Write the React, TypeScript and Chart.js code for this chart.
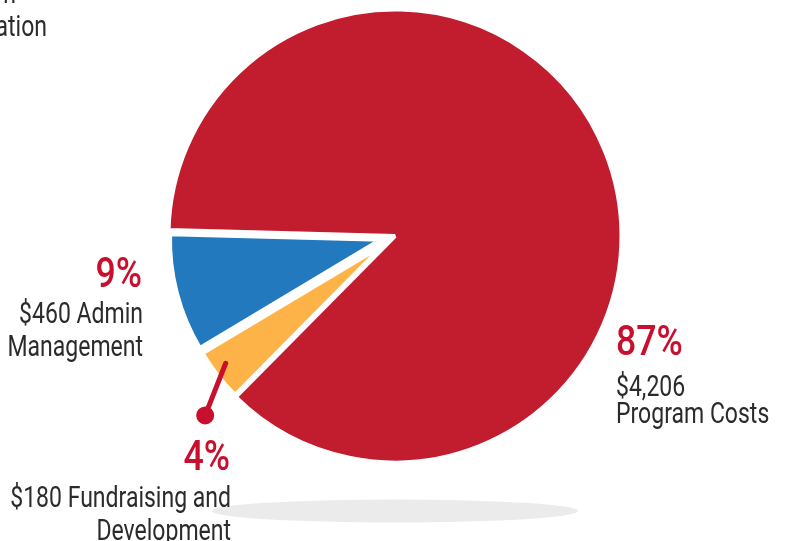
import React, { useEffect, useRef } from "react";
import { Chart, registerables } from "chart.js";

Chart.register(...registerables);

const categories = ["Program Costs", "Fundraising and Development", "Admin Management"];
const amounts = ["$4,206", "$180", "$460"];
const values = [87, 4, 9];
const colors = ["#C21D2E", "#FDB348", "#2279BE"];
const pulls = [0, 15, 15];
const shrinks = [0, 16, 16];

const RED = "#C8102E";
const INK = "#2B2B2B";
const FONT = '"Roboto", "Noto Sans", sans-serif';

type Lbl = { text: string; x: number; y: number; align: CanvasTextAlign; big?: boolean };
const labelLayout: Lbl[] = [
  { text: `${values[0]}%`, x: 616, y: 355, align: "left", big: true },
  { text: amounts[0], x: 616, y: 396, align: "left" },
  { text: categories[0], x: 616, y: 423, align: "left" },
  { text: `${values[2]}%`, x: 142, y: 287, align: "right", big: true },
  { text: `${amounts[2]} Admin`, x: 143, y: 323, align: "right" },
  { text: "Management", x: 143, y: 356, align: "right" },
  { text: `${values[1]}%`, x: 230, y: 470, align: "right", big: true },
  { text: `${amounts[1]} Fundraising and`, x: 231, y: 507, align: "right" },
  { text: "Development", x: 231, y: 540, align: "right" },
  { text: "Cost per Program", x: 16, y: 3, align: "right" },
  { text: "Participation", x: 47, y: 36, align: "right" },
];

const pullPlugin = {
  id: "pullPlugin",
  beforeDraw(chart: any) {
    const ctx = chart.ctx as CanvasRenderingContext2D;
    const ca = chart.chartArea;
    const cx = (ca.left + ca.right) / 2;
    const cy = (ca.top + ca.bottom) / 2;
    ctx.save();
    ctx.fillStyle = "#EBEBEB";
    ctx.beginPath();
    ctx.ellipse(cx, cy + 275, 183, 11.5, 0, 0, Math.PI * 2);
    ctx.fill();
    ctx.restore();
  },
  beforeDatasetsDraw(chart: any) {
    const meta = chart.getDatasetMeta(0);
    const ca = chart.chartArea;
    const cx = (ca.left + ca.right) / 2;
    const cy = (ca.top + ca.bottom) / 2;
    const base = meta.controller.outerRadius;
    meta.data.forEach((el: any, i: number) => {
      const mid = (el.startAngle + el.endAngle) / 2;
      el.x = cx + Math.cos(mid) * pulls[i];
      el.y = cy + Math.sin(mid) * pulls[i];
      el.outerRadius = base - shrinks[i];
    });
  },
  afterDatasetsDraw(chart: any) {
    const ctx = chart.ctx as CanvasRenderingContext2D;
    const meta = chart.getDatasetMeta(0);
    const el: any = meta.data[1];
    const mid = (el.startAngle + el.endAngle) / 2;
    const r = el.outerRadius;
    const a1 = mid + 0.022;
    const a2 = mid - 0.098;
    const x1 = el.x + Math.cos(a1) * r * 0.935;
    const y1 = el.y + Math.sin(a1) * r * 0.935;
    const x2 = el.x + Math.cos(a2) * r * 1.17;
    const y2 = el.y + Math.sin(a2) * r * 1.17;
    ctx.save();
    ctx.strokeStyle = RED;
    ctx.fillStyle = RED;
    ctx.lineWidth = 5;
    ctx.lineCap = "round";
    ctx.beginPath();
    ctx.moveTo(x1, y1);
    ctx.lineTo(x2, y2);
    ctx.stroke();
    ctx.beginPath();
    ctx.arc(x2, y2, 9, 0, Math.PI * 2);
    ctx.fill();
    ctx.restore();

    labelLayout.forEach((l) => {
      ctx.save();
      ctx.textBaseline = "alphabetic";
      ctx.font = l.big ? `500 42px ${FONT}` : `29.5px ${FONT}`;
      ctx.fillStyle = l.big ? RED : INK;
      ctx.textAlign = l.align;
      ctx.translate(l.x, l.y);
      ctx.scale(l.big ? 0.85 : 0.78, 1);
      ctx.fillText(l.text, 0, 0);
      ctx.restore();
    });
  },
};

export default function App() {
  const ref = useRef<HTMLCanvasElement | null>(null);
  useEffect(() => {
    document.body.style.margin = "0";
    if (!ref.current) return;
    const chart = new Chart(ref.current, {
      type: "pie",
      data: {
        labels: categories,
        datasets: [
          {
            data: values,
            backgroundColor: colors,
            borderColor: "#FFFFFF",
            borderWidth: 4,
          },
        ],
      },
      options: {
        animation: false,
        responsive: false,
        rotation: 271.5,
        radius: 226.5,
        layout: { padding: { left: 4, right: 0, top: 0, bottom: 69 } },
        plugins: { legend: { display: false }, tooltip: { enabled: false } },
      },
      plugins: [pullPlugin],
    } as any);
    return () => chart.destroy();
  }, []);
  return (
    <div style={{ position: "relative", width: 786, height: 541, overflow: "hidden", background: "#fff" }}>
      <canvas ref={ref} width={786} height={541} style={{ width: 786, height: 541, display: "block" }} />
    </div>
  );
}
